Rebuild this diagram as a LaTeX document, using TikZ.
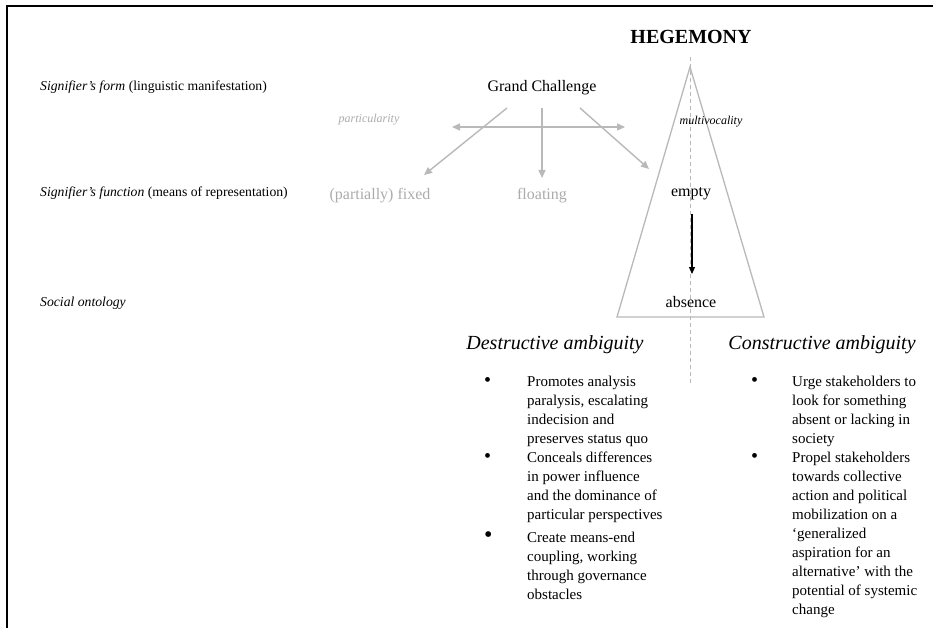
\documentclass[tikz,border=0pt]{standalone}
\usepackage{fontspec}
\setmainfont{Liberation Serif}
\usetikzlibrary{arrows.meta}
\definecolor{lgray}{RGB}{172,172,172}
\definecolor{agray}{RGB}{185,185,185}
\newcommand{\bigbul}{{\fontsize{20}{19}\selectfont\textbullet}}
\newcommand{\hugebul}{{\fontsize{24}{19}\selectfont\textbullet}}
\begin{document}
\begin{tikzpicture}[x=1pt,y=-1pt,
  lbl/.style={anchor=base west,inner sep=0pt,font=\fontsize{13.7}{15}\selectfont},
  mid/.style={anchor=base,inner sep=0pt},
  garrow/.style={draw=agray,line width=1.4pt,-{Triangle[length=8pt,width=7pt]}},
  blist/.style={anchor=north west,inner sep=0pt,font=\fontsize{15}{19}\selectfont}]
\useasboundingbox (0,0) rectangle (933,628);
\fill[white] (0,0) rectangle (933,628);
% frame
\draw[line width=2.6pt] (7,640) -- (7,6) -- (945,6);

% left labels
\node[lbl] (lform) at (40,91) {\textit{Signifier’s form} (linguistic manifestation)};
\node[lbl] (lfunc) at (40,197) {\textit{Signifier’s function} (means of representation)};
\node[lbl] (lsoc) at (40,306) {\textit{Social ontology}};

% title
\node[mid,font=\fontsize{20}{24}\selectfont\bfseries] (heg) at (691,44) {HEGEMONY};

% triangle and dashed axis
\coordinate (apex) at (690,67);
\coordinate (bl) at (617,317);
\coordinate (br) at (764,317);
\draw[draw=agray,line width=1.3pt,line join=miter] (apex) -- (bl) -- (br) -- cycle;
\coordinate (dtop) at (690,57);
\coordinate (dbot) at (690,386);
\draw[draw=agray,line width=1pt,dash pattern=on 4pt off 3pt] (dtop) -- (dbot);

% nodes
\node[mid,font=\fontsize{16}{19}\selectfont] (gc) at (542,92) {Grand Challenge};
\node[mid,font=\fontsize{12}{14}\selectfont\itshape,text=lgray] (part) at (369,123) {particularity};
\node[mid,font=\fontsize{12}{14}\selectfont\itshape] (multi) at (711,125) {multivocality};
\node[mid,font=\fontsize{16}{19}\selectfont,text=lgray] (fixed) at (380,200) {(partially) fixed};
\node[mid,font=\fontsize{16}{19}\selectfont,text=lgray] (float) at (542,200) {floating};
\node[mid,font=\fontsize{16}{19}\selectfont] (empty) at (691,197) {empty};
\node[mid,font=\fontsize{16}{19}\selectfont] (absence) at (691,307) {absence};

% arrows from Grand Challenge
\coordinate (s1) at (507,108);
\coordinate (e1) at (424,175);
\coordinate (s2) at (542,108);
\coordinate (e2) at (542,178);
\coordinate (s3) at (580,108);
\coordinate (e3) at (649,169);
\coordinate (hl) at (452,127);
\coordinate (hr) at (625,127);
\draw[garrow] (s1) -- (e1);
\draw[garrow] (s2) -- (e2);
\draw[garrow] (s3) -- (e3);
\draw[draw=agray,line width=1.4pt,{Triangle[length=8pt,width=7pt]}-{Triangle[length=8pt,width=7pt]}] (hl) -- (hr);

% empty -> absence
\coordinate (ea) at (692,214);
\coordinate (eb) at (692,274);
\draw[line width=1.1pt,-{Triangle[length=7pt,width=6pt]}] (ea) -- (eb);

% headings
\node[mid,font=\fontsize{20}{24}\selectfont\itshape] (dest) at (555,349) {Destructive ambiguity};
\node[mid,font=\fontsize{20}{24}\selectfont\itshape] (cons) at (822,349) {Constructive ambiguity};

% lists
\node[blist] (dlist) at (484,373) {%
\begin{tabular}{@{}p{43pt}@{}l@{}}
\bigbul & Promotes analysis\\
 & paralysis, escalating\\
 & indecision and\\
 & preserves status quo\\
\bigbul & Conceals differences\\
 & in power influence\\
 & and the dominance of\\
 & particular perspectives\\[4pt]
\hugebul & Create means-end\\
 & coupling, working\\
 & through governance\\
 & obstacles
\end{tabular}};
\node[blist] (clist) at (751,373) {%
\begin{tabular}{@{}p{41pt}@{}l@{}}
\bigbul & Urge stakeholders to\\
 & look for something\\
 & absent or lacking in\\
 & society\\
\bigbul & Propel stakeholders\\
 & towards collective\\
 & action and political\\
 & mobilization on a\\
 & ‘generalized\\
 & aspiration for an\\
 & alternative’ with the\\
 & potential of systemic\\
 & change
\end{tabular}};
\end{tikzpicture}
\end{document}
